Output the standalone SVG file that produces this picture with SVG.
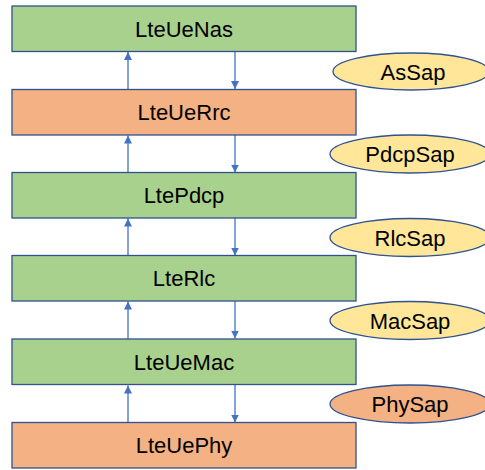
<svg xmlns="http://www.w3.org/2000/svg" width="485" height="470" viewBox="0 0 485 470">
<defs>
<marker id="ah" viewBox="0 0 10 10" refX="10" refY="5" markerWidth="8" markerHeight="8" markerUnits="userSpaceOnUse" orient="auto"><path d="M0,0 L10,5 L0,10 z" fill="#4472C4"/></marker>
<style>
.box{stroke:#2F528F;stroke-width:1.3}
.g{fill:#A9D18E}.o{fill:#F4B183}.y{fill:#FFE699}
.ell{stroke:#2F528F;stroke-width:1.3}
.t{font-family:"Liberation Sans",Arial,sans-serif;font-size:22px;fill:#000;text-anchor:middle}
.c{stroke:#4472C4;stroke-width:1.3;fill:none;marker-end:url(#ah)}
</style>
</defs>
<rect width="485" height="470" fill="#fff"/>
<g id="connectors">
<line class="c" x1="128" y1="89.5" x2="128" y2="52"/>
<line class="c" x1="235" y1="51.5" x2="235" y2="89"/>
<line class="c" x1="128" y1="173" x2="128" y2="135.5"/>
<line class="c" x1="235" y1="135" x2="235" y2="172.5"/>
<line class="c" x1="128" y1="256" x2="128" y2="218.5"/>
<line class="c" x1="235" y1="218" x2="235" y2="255.5"/>
<line class="c" x1="128" y1="339" x2="128" y2="301.5"/>
<line class="c" x1="235" y1="301" x2="235" y2="338.5"/>
<line class="c" x1="128" y1="423" x2="128" y2="385.5"/>
<line class="c" x1="235" y1="385" x2="235" y2="422.5"/>
</g>
<g id="LteUeNas"><rect class="box g" x="12" y="6" width="344" height="45.5"/><text class="t" x="184" y="36.5">LteUeNas</text></g>
<g id="LteUeRrc"><rect class="box o" x="12" y="89.5" width="344" height="45.5"/><text class="t" x="184" y="120">LteUeRrc</text></g>
<g id="LtePdcp"><rect class="box g" x="12" y="172.5" width="344" height="45.5"/><text class="t" x="184" y="203">LtePdcp</text></g>
<g id="LteRlc"><rect class="box g" x="12" y="255.5" width="344" height="45.5"/><text class="t" x="184" y="286">LteRlc</text></g>
<g id="LteUeMac"><rect class="box g" x="12" y="339" width="344" height="45.5"/><text class="t" x="184" y="369.5">LteUeMac</text></g>
<g id="LteUePhy"><rect class="box o" x="12" y="422.5" width="344" height="45.5"/><text class="t" x="184" y="453">LteUePhy</text></g>
<g id="AsSap"><ellipse class="ell y" cx="411" cy="71.5" rx="78" ry="18.5"/><text class="t" x="413" y="79.5">AsSap</text></g>
<g id="PdcpSap"><ellipse class="ell y" cx="410" cy="154" rx="80" ry="19"/><text class="t" x="410" y="162">PdcpSap</text></g>
<g id="RlcSap"><ellipse class="ell y" cx="410" cy="237.5" rx="80" ry="19"/><text class="t" x="410" y="245.5">RlcSap</text></g>
<g id="MacSap"><ellipse class="ell y" cx="410" cy="320.5" rx="80" ry="19"/><text class="t" x="410" y="328.5">MacSap</text></g>
<g id="PhySap"><ellipse class="ell o" cx="410" cy="404" rx="80" ry="19"/><text class="t" x="410" y="412">PhySap</text></g>
</svg>
